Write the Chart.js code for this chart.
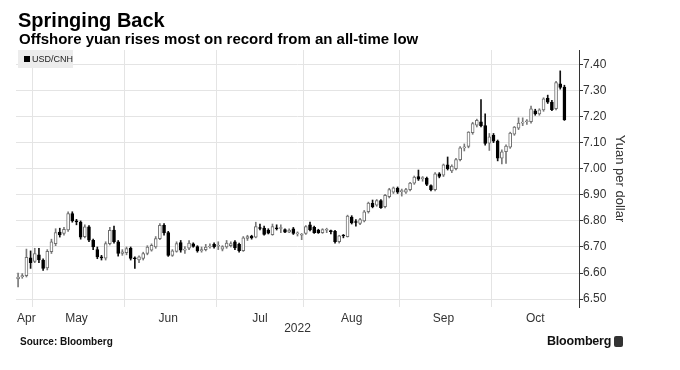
<!DOCTYPE html>
<html>
<head>
<meta charset="utf-8">
<script src="https://cdn.jsdelivr.net/npm/chart.js@4"></script>
<style>
html,body{margin:0;padding:0;background:#fff;width:680px;height:370px;overflow:hidden;font-family:"Liberation Sans",Arial,sans-serif;}
#wrap{position:relative;width:680px;height:370px;}
#c{position:absolute;left:0;top:0;}
.title{position:absolute;left:18px;top:10px;font-size:20px;line-height:20px;font-weight:bold;color:#000;white-space:nowrap;}
.sub{position:absolute;left:19px;top:31px;font-size:15px;line-height:15px;font-weight:bold;color:#000;white-space:nowrap;}
.legend{position:absolute;left:18px;top:50px;width:55px;height:18px;background:#ececec;}
.legend .sw{position:absolute;left:6px;top:6px;width:6px;height:6px;background:#000;}
.legend .tx{position:absolute;left:14px;top:4px;font-size:9px;line-height:10px;color:#222;white-space:nowrap;}
.source{position:absolute;left:20px;top:337px;font-size:10px;line-height:10px;font-weight:bold;color:#111;white-space:nowrap;}
.brand{position:absolute;left:547px;top:335px;font-size:12.5px;line-height:13px;font-weight:bold;color:#111;white-space:nowrap;letter-spacing:-0.2px;}
.icon{position:absolute;left:614px;top:336px;width:9px;height:11px;background:#333;border-radius:2px;}
</style>
</head>
<body>
<div id="wrap">
<canvas id="c" width="680" height="370"></canvas>
<div class="title">Springing Back</div>
<div class="sub">Offshore yuan rises most on record from an all-time low</div>
<div class="legend"><div class="sw"></div><div class="tx">USD/CNH</div></div>
<div class="source">Source: Bloomberg</div>
<div class="brand">Bloomberg</div>
<div class="icon"></div>
</div>
<script>
// Trading days (MM-DD, 2022); the last three slots of October are empty
const dates = [
'04-26','04-27','04-28','04-29',
'05-02','05-03','05-04','05-05','05-06','05-09','05-10','05-11','05-12','05-13','05-16','05-17','05-18','05-19','05-20','05-23','05-24','05-25','05-26','05-27','05-30','05-31',
'06-01','06-02','06-03','06-06','06-07','06-08','06-09','06-10','06-13','06-14','06-15','06-16','06-17','06-20','06-21','06-22','06-23','06-24','06-27','06-28','06-29','06-30',
'07-01','07-04','07-05','07-06','07-07','07-08','07-11','07-12','07-13','07-14','07-15','07-18','07-19','07-20','07-21','07-22','07-25','07-26','07-27','07-28','07-29',
'08-01','08-02','08-03','08-04','08-05','08-08','08-09','08-10','08-11','08-12','08-15','08-16','08-17','08-18','08-19','08-22','08-23','08-24','08-25','08-26','08-29','08-30','08-31',
'09-01','09-02','09-05','09-06','09-07','09-08','09-09','09-12','09-13','09-14','09-15','09-16','09-19','09-20','09-21','09-22','09-23','09-26','09-27','09-28','09-29','09-30',
'10-03','10-04','10-05','10-06','10-07','10-10','10-11','10-12','10-13','10-14','10-17','10-18','10-19','10-20','10-21','10-24','10-25','10-26','10-27','10-28','10-31'
];
const monthNames = {'04':'Apr','05':'May','06':'Jun','07':'Jul','08':'Aug','09':'Sep','10':'Oct'};
const yearLabel = '2022';

const open = [
6.578,6.586,6.590,6.658,
6.645,6.670,6.650,6.620,6.682,6.713,6.757,6.752,6.765,6.828,6.800,6.795,6.740,6.777,6.726,6.690,6.662,6.657,6.713,6.765,6.720,6.675,
6.678,6.695,6.656,6.650,6.656,6.675,6.688,6.700,6.732,6.783,6.755,6.668,6.683,6.717,6.688,6.695,6.712,6.702,6.685,6.690,6.700,6.710,
6.703,6.692,6.700,6.705,6.720,6.710,6.686,6.733,6.742,6.738,6.773,6.772,6.765,6.747,6.772,6.771,6.767,6.757,6.770,6.750,6.745,
6.752,6.785,6.775,6.765,6.755,6.764,6.760,6.760,6.720,6.743,6.740,6.815,6.796,6.790,6.800,6.835,6.867,6.860,6.878,6.855,6.893,6.910,6.925,
6.912,6.910,6.920,6.945,6.970,6.962,6.963,6.935,6.920,6.980,6.975,7.015,6.992,7.000,7.035,7.080,7.085,7.138,7.167,7.180,7.165,7.098,
7.128,7.106,7.040,7.065,7.083,7.132,7.155,7.175,7.180,7.180,7.222,7.210,7.225,7.270,7.255,7.230,7.325,7.313
];
const high = [
6.600,6.598,6.692,6.685,
6.695,6.695,6.655,6.690,6.730,6.770,6.772,6.775,6.835,6.835,6.806,6.800,6.785,6.782,6.730,6.700,6.668,6.720,6.775,6.780,6.725,6.690,
6.700,6.700,6.662,6.666,6.680,6.705,6.712,6.740,6.790,6.790,6.760,6.690,6.720,6.725,6.702,6.725,6.716,6.705,6.700,6.710,6.712,6.716,
6.720,6.705,6.725,6.720,6.725,6.715,6.740,6.745,6.745,6.795,6.788,6.780,6.770,6.788,6.785,6.785,6.770,6.770,6.775,6.758,6.752,
6.782,6.795,6.780,6.768,6.770,6.772,6.765,6.764,6.745,6.748,6.822,6.820,6.805,6.810,6.840,6.872,6.880,6.882,6.882,6.902,6.925,6.930,6.930,
6.922,6.925,6.948,6.972,6.995,6.970,6.968,6.938,6.985,6.985,7.018,7.045,7.015,7.040,7.085,7.095,7.142,7.178,7.190,7.265,7.210,7.135,
7.135,7.110,7.072,7.092,7.140,7.162,7.195,7.195,7.188,7.240,7.228,7.230,7.272,7.282,7.262,7.335,7.375,7.320
];
const low = [
6.547,6.580,6.585,6.618,
6.640,6.640,6.610,6.612,6.675,6.705,6.738,6.745,6.760,6.795,6.785,6.730,6.735,6.720,6.690,6.655,6.650,6.650,6.708,6.715,6.665,6.668,
6.670,6.650,6.618,6.640,6.650,6.670,6.684,6.695,6.728,6.745,6.664,6.664,6.680,6.680,6.675,6.690,6.699,6.680,6.680,6.685,6.695,6.695,
6.690,6.685,6.695,6.700,6.690,6.680,6.683,6.725,6.730,6.735,6.765,6.745,6.750,6.745,6.765,6.755,6.755,6.755,6.748,6.742,6.728,
6.748,6.762,6.752,6.752,6.752,6.755,6.750,6.715,6.715,6.735,6.738,6.788,6.780,6.786,6.796,6.830,6.850,6.856,6.848,6.850,6.888,6.905,6.905,
6.895,6.905,6.915,6.940,6.955,6.952,6.935,6.915,6.915,6.965,6.970,6.995,6.985,6.995,7.030,7.068,7.080,7.132,7.160,7.160,7.090,7.070,
7.100,7.030,7.018,7.020,7.078,7.128,7.150,7.165,7.170,7.175,7.205,7.205,7.220,7.250,7.222,7.225,7.305,7.185
];
const close = [
6.585,6.590,6.660,6.640,
6.675,6.650,6.618,6.683,6.720,6.755,6.746,6.768,6.828,6.800,6.796,6.738,6.777,6.726,6.700,6.662,6.658,6.713,6.764,6.720,6.675,6.681,
6.694,6.656,6.655,6.662,6.675,6.700,6.706,6.732,6.783,6.754,6.668,6.685,6.713,6.688,6.690,6.715,6.702,6.685,6.690,6.700,6.703,6.700,
6.706,6.702,6.715,6.713,6.696,6.686,6.735,6.740,6.735,6.778,6.771,6.748,6.753,6.778,6.770,6.773,6.757,6.765,6.752,6.752,6.746,
6.778,6.765,6.755,6.755,6.767,6.766,6.759,6.720,6.743,6.742,6.818,6.792,6.794,6.805,6.835,6.868,6.855,6.878,6.851,6.898,6.920,6.927,6.910,
6.914,6.920,6.945,6.968,6.960,6.964,6.940,6.920,6.980,6.970,7.015,7.000,7.010,7.035,7.080,7.082,7.140,7.173,7.185,7.165,7.097,7.122,
7.106,7.040,7.065,7.087,7.137,7.160,7.175,7.177,7.182,7.230,7.210,7.226,7.268,7.255,7.226,7.330,7.312,7.188
];
const yTickLabels = ['6.50','6.60','6.70','6.80','6.90','7.00','7.10','7.20','7.30','7.40'];
const yMinorLabels = ['6.55','6.65','6.75','6.85','6.95','7.05','7.15','7.25','7.35','7.45'];

// month boundaries and label positions
const monthOf = dates.map(d => d.slice(0, 2));
const boundaries = new Set();
const labelAt = {};
let start = 0;
for (let i = 1; i <= dates.length; i++) {
  if (i === dates.length || monthOf[i] !== monthOf[i - 1]) {
    const last = i - 1;
    const mid = start === 0 ? last - 1 : Math.floor((start + last) / 2);
    labelAt[mid] = monthNames[monthOf[start]];
    if (i < dates.length) boundaries.add(i);
    start = i;
  }
}

const isUp = close.map((c, i) => c >= open[i]);
const bodies = close.map((c, i) => [Math.min(open[i], c), Math.max(open[i], c)]);
const wicks = low.map((l, i) => [l, high[i]]);
const upBorder = '#707070', downFill = '#000000';

const majorVals = yTickLabels.map(Number);
const isMajor = v => majorVals.some(m => Math.abs(m - v) < 1e-6);

const FONT = '"Liberation Sans", Arial, sans-serif';
Chart.defaults.font.family = FONT;

new Chart(document.getElementById('c'), {
  type: 'bar',
  data: {
    labels: dates,
    datasets: [
      {
        label: 'body',
        data: bodies,
        grouped: false,
        order: 1,
        barThickness: 3,
        minBarLength: 1,
        borderSkipped: false,
        borderWidth: 1,
        backgroundColor: isUp.map(u => u ? '#ffffff' : downFill),
        borderColor: isUp.map(u => u ? upBorder : downFill)
      },
      {
        label: 'wick',
        data: wicks,
        grouped: false,
        order: 2,
        barThickness: 1,
        borderWidth: 0,
        backgroundColor: isUp.map(u => u ? '#7a7a7a' : '#111111')
      }
    ]
  },
  options: {
    responsive: false,
    animation: false,
    layout: { padding: { left: 16, top: 50, right: 49, bottom: 34 } },
    plugins: { legend: { display: false }, tooltip: { enabled: false } },
    scales: {
      x: {
        type: 'category',
        offset: true,
        grid: {
          offset: true,
          drawTicks: false,
          lineWidth: 1,
          color: ctx => (ctx.tick && boundaries.has(ctx.index)) ? '#e4e4e4' : 'rgba(0,0,0,0)'
        },
        border: { display: false },
        ticks: {
          autoSkip: false, maxRotation: 0, minRotation: 0, padding: 4,
          color: '#333', font: { size: 12 },
          callback: (v, i) => labelAt[i] || ''
        },
        title: { display: true, text: yearLabel, color: '#333', font: { size: 12 }, padding: 0 },
        afterFit: s => { s.height = 29; }
      },
      y: {
        position: 'right',
        min: 6.47,
        max: 7.455,
        afterBuildTicks: s => {
          s.ticks = yTickLabels.concat(yMinorLabels).map(Number).sort((a, b) => a - b).map(v => ({ value: v }));
        },
        grid: {
          drawTicks: true,
          tickLength: 4,
          tickColor: '#333',
          color: ctx => (ctx.tick && isMajor(ctx.tick.value)) ? '#e4e4e4' : 'rgba(0,0,0,0)'
        },
        border: { display: true, color: '#333', width: 1 },
        ticks: {
          padding: 0, color: '#333', font: { size: 12 },
          callback: v => isMajor(v) ? Number(v).toFixed(2) : ''
        },
        title: { display: true, text: 'Yuan per dollar', color: '#333', font: { size: 13 }, padding: { top: 4, bottom: 0 } },
        afterFit: s => { s.width = 52; }
      }
    }
  }
});
</script>
</body>
</html>
